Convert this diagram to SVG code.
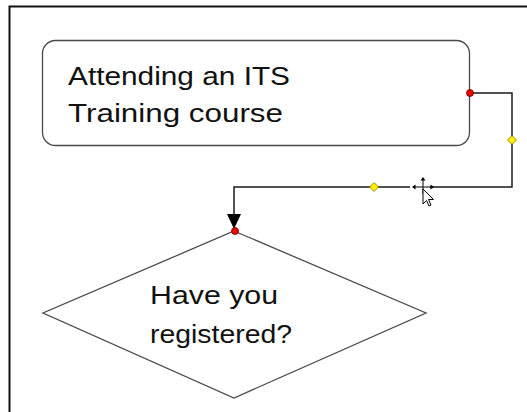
<svg xmlns="http://www.w3.org/2000/svg" width="527" height="412" viewBox="0 0 527 412">
  <style>
    .shape { fill: #ffffff; stroke: #4a4a4a; stroke-width: 1.3; }
    .label { font-family: "Liberation Sans", sans-serif; font-size: 26px; fill: #111111; }
    .conn { fill: none; stroke: #1a1a1a; stroke-width: 1.5; }
    .handle-end { fill: #ee0000; stroke: #6a0000; stroke-width: 0.8; }
    .handle-mid { fill: #ffee00; stroke: #7a7a00; stroke-width: 0.8; }
  </style>

  <rect x="0" y="0" width="527" height="412" fill="#ffffff"/>
  <!-- page frame -->
  <path d="M9.5,412 L9.5,6.5 L527,6.5" fill="none" stroke="#111111" stroke-width="2"/>

  <!-- process box -->
  <g id="node-attending">
    <rect class="shape" x="42.5" y="40.5" width="427" height="105" rx="13" ry="13"/>
    <text class="label" x="68" y="85" textLength="222" lengthAdjust="spacingAndGlyphs">Attending an ITS</text>
    <text class="label" x="68" y="122" textLength="215" lengthAdjust="spacingAndGlyphs">Training course</text>
  </g>

  <!-- decision diamond -->
  <g id="node-registered">
    <polygon class="shape" points="234,231 426,313 234,398 43,313"/>
    <text class="label" x="150" y="304" textLength="128" lengthAdjust="spacingAndGlyphs">Have you</text>
    <text class="label" x="150" y="343" textLength="142" lengthAdjust="spacingAndGlyphs">registered?</text>
  </g>

  <!-- elbow connector with selection handles -->
  <g id="connectors">
    <path class="conn" d="M470,93 L512,93 L512,187 L234,187 L234,218"/>
    <path d="M227,214 L241,214 L234,229 Z" fill="#000000"/>
    <circle class="handle-end" cx="470" cy="93" r="3.5"/>
    <circle class="handle-end" cx="235" cy="231" r="3.5"/>
    <path class="handle-mid" d="M512,135.5 L516.5,140 L512,144.5 L507.5,140 Z"/>
    <path class="handle-mid" d="M374,182.5 L378.5,187 L374,191.5 L369.5,187 Z"/>
  </g>

  <!-- pointer: move cross with arrow -->
  <g id="pointer">
    <rect x="410" y="184" width="20" height="6" fill="#ffffff"/>
    <path d="M423,180 L423,194 M415,187 L431,187" stroke="#000000" stroke-width="1"/>
    <path d="M423,177 L420.5,180.5 L425.5,180.5 Z M412,187 L415.5,184.5 L415.5,189.5 Z M434,187 L430.5,184.5 L430.5,189.5 Z" fill="#000000"/>
    <path d="M423,189 L423,204 L426.5,200.5 L429,206 L431,205 L428.5,199.5 L433.5,199.5 Z" fill="#ffffff" stroke="#000000" stroke-width="1"/>
  </g>
</svg>
